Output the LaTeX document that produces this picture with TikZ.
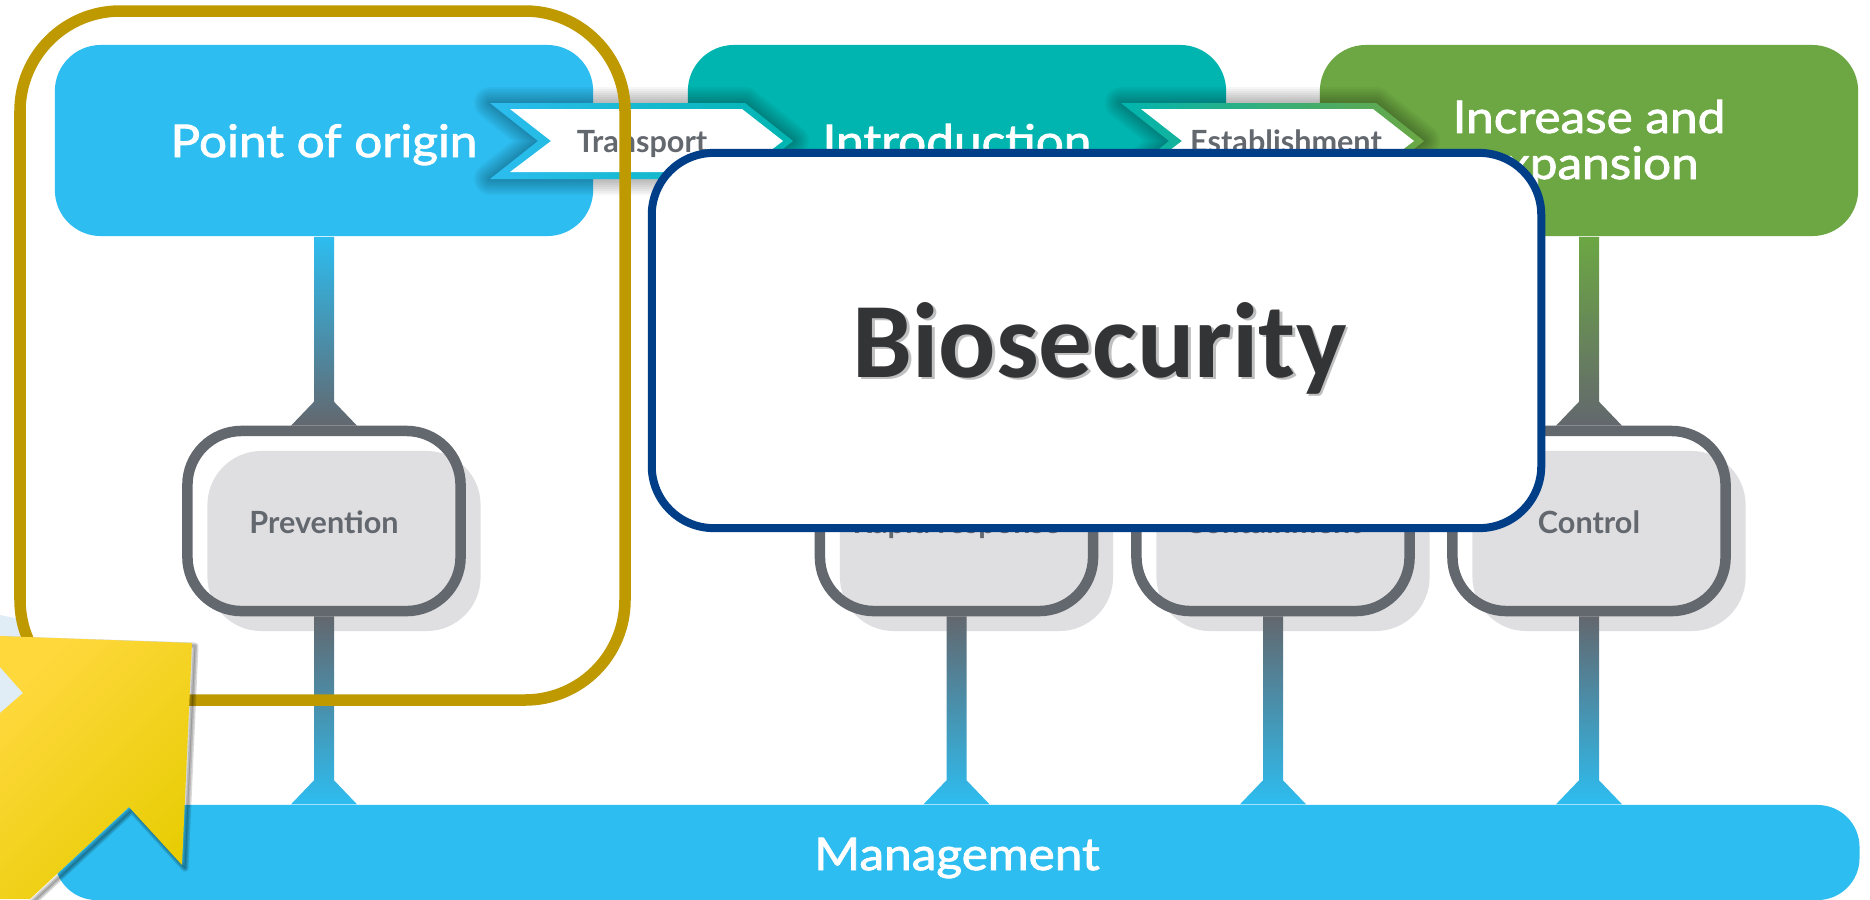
\documentclass[tikz,border=0pt]{standalone}
\usepackage{fontspec}
\usepackage{xcolor}
\setmainfont{Lato}
\newfontfamily\headfont[FakeStretch=1.1,FakeBold=1.8]{Lato}
\newfontfamily\biofont{Carlito}
\usetikzlibrary{calc,shadows}

\definecolor{skyblue}{HTML}{2DBDF0}
\definecolor{tealbox}{HTML}{00B5B0}
\definecolor{leafgreen}{HTML}{6CA743}
\definecolor{slategray}{HTML}{63676E}
\definecolor{cardgray}{HTML}{DFDFE1}
\definecolor{goldline}{HTML}{BE9900}
\definecolor{navyline}{HTML}{003F88}
\definecolor{paleblue}{HTML}{E0ECF6}
\definecolor{inkdark}{HTML}{333436}
\definecolor{yellowlight}{HTML}{FFD83C}
\definecolor{yellowmid}{HTML}{FFD800}
\definecolor{yellowdeep}{HTML}{E8CD05}

\tikzset{
    topbox/.style={rectangle, rounded corners=.46cm, minimum width=5.38cm, minimum height=1.91cm,
        inner sep=0pt, align=center, text=white, font=\headfont\fontsize{12.8}{13.1}\selectfont, text height=.33cm, text depth=0pt},
    card/.style={rectangle, draw=slategray, line width=.105cm, rounded corners=.54cm,
        minimum width=2.73cm, minimum height=1.80cm, inner sep=0pt, text=slategray,
        font=\bfseries\fontsize{8.7}{10}\selectfont, text height=.24cm, text depth=0pt,
        copy shadow={draw=none, fill=cardgray, shadow xshift=.2cm, shadow yshift=-.2cm}},
    ribbontext/.style={inner sep=0pt, text=slategray, font=\bfseries\fontsize{8.7}{10}\selectfont, text height=.22cm, text depth=0pt}
}

% stem from #1 to #2 with a foot at #2, shaded #3 to #4
\newcommand{\stem}[4]{
    \coordinate (a) at (#1);
    \coordinate (b) at (#2);
    \shade [top color=#3, bottom color=#4]
        ($(a)+(-10,0)$) -- ($(b)+(-10,-24)$) -- ($(b)+(-33,0)$) -- ($(b)+(33,0)$)
        -- ($(b)+(10,-24)$) -- ($(a)+(10,0)$) -- cycle;
}

% ribbon between two boxes, moved right by #1
\newcommand{\ribbon}[3]{
    \begin{scope}[shift={(#1,0)}]
        \foreach \w in {4,8,...,32}
            \draw [line width=\w*.01cm, black, opacity=.035, line join=round]
                (490,103) -- (538,141) -- (490,179) -- (745,179) -- (793,141) -- (745,103) -- cycle;
        \shade [left color=#2, right color=#3]
            (490,103) -- (538,141) -- (490,179) -- (745,179) -- (793,141) -- (745,103) -- cycle;
        \fill [white] (510,109) -- (551,141) -- (510,172) -- (742,172) -- (783,141) -- (742,109) -- cycle;
    \end{scope}
}

\begin{document}
\begin{tikzpicture}[x=.01cm, y=-.01cm]
    \useasboundingbox (0,0) rectangle (1870,899);
    \clip (0,0) rectangle (1870,899);
    \fill [white] (0,0) rectangle (1870,899);
    \fill [paleblue] (0,615) -- (20,619) -- (20,640) -- (30,640) -- (30,720) -- (0,720) -- cycle;

    \node [topbox, fill=skyblue] (origin) at (324,140.5) {Point of origin};
    \node [topbox, fill=tealbox] (intro) at (957,140.5) {Introduction};
    \node [topbox, fill=leafgreen, text height=.77cm] (increase) at (1589,140.5) {Increase and\\expansion};

    \node [card] (prevention) at (324,521) {Prevention};
    \node [card] (response) at (956.5,521) {Rapid response};
    \node [card] (containment) at (1273,521) {Containment};
    \node [card] (control) at (1589,521) {Control};

    \node [rectangle, rounded corners=.42cm, fill=skyblue, minimum width=18.04cm, minimum height=.95cm,
        inner sep=0pt, text=white, font=\headfont\fontsize{12.8}{13.1}\selectfont, text height=.35cm, text depth=0pt]
        (management) at (957,852.5) {Management};

    \stem{origin.south}{prevention.north}{skyblue}{slategray}
    \stem{increase.south}{control.north}{leafgreen}{slategray}
    \stem{prevention.south}{prevention.south |- management.north}{slategray}{skyblue}
    \stem{response.south}{response.south |- management.north}{slategray}{skyblue}
    \stem{containment.south}{containment.south |- management.north}{slategray}{skyblue}
    \stem{control.south}{control.south |- management.north}{slategray}{skyblue}

    \ribbon{0}{skyblue}{tealbox}
    \ribbon{631}{tealbox}{leafgreen}
    \node [ribbontext] (transport) at (642,141) {Transport};
    \node [ribbontext] (establishment) at (1286,141) {Establishment};

    \draw [goldline, line width=.115cm, rounded corners=1cm] (20,11) rectangle (625,700);

    \node [rectangle, draw=navyline, fill=white, line width=.08cm, rounded corners=.62cm,
        minimum width=8.89cm, minimum height=3.75cm] (frame) at (1096.5,340.5) {};
    \node [inner sep=0pt, anchor=base, text=inkdark, font=\biofont\bfseries\fontsize{30.4}{32}\selectfont]
        (biosecurity) at (1099.5,377) {\rlap{\raisebox{-.8pt}{\hspace{.8pt}\color{black!25}Biosecurity}}Biosecurity};

    % yellow arrow running off the left edge
    \foreach \w in {1,4,7}
        \draw [line width=\w*.01cm, black, opacity=.15, line join=round, shift={(3,3)}]
            (-20,636) -- (192,643) -- (182,865) -- (129,807) -- (30,899) -- (-20,950) -- cycle;
    \shade [left color=yellowlight, middle color=yellowmid, right color=yellowdeep, shading angle=45]
        (0,636) -- (192,643) -- (182,865) -- (129,807) -- (30,899) -- (0,899) -- (0,713) -- (23,693) -- (0,667) -- cycle;
\end{tikzpicture}
\end{document}
